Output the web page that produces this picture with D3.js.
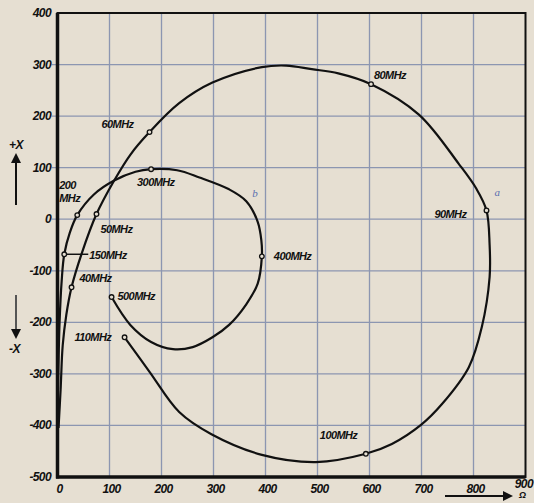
<!DOCTYPE html>
<html>
<head>
<meta charset="utf-8">
<script src="https://cdn.jsdelivr.net/npm/d3@7"></script>
<style>
  body { margin: 0; background: #e6dfd2; }
  svg { display: block; }
  .tick-label { font-family: "Liberation Sans", Arial, sans-serif; font-weight: bold; font-style: italic; font-size: 12px; fill: #111; letter-spacing: -0.6px; }
  .freq { font-family: "Liberation Sans", Arial, sans-serif; font-weight: bold; font-style: italic; font-size: 11px; fill: #111; letter-spacing: -0.6px; }
  .mark { font-family: "Liberation Serif", serif; font-style: italic; font-size: 11px; fill: #5a6fb0; }
</style>
</head>
<body>
<svg width="534" height="503"></svg>
<script>
// tick values
var xTicks = [0, 100, 200, 300, 400, 500, 600, 700, 800, 900];
var yTicks = [400, 300, 200, 100, 0, -100, -200, -300, -400, -500];

// curve a: 40 MHz .. 110 MHz  [R, X]
var curveA = [[2,-405],[6,-330],[10,-245],[17,-185],[27,-132],[46,-68],[75,10],[109,75],[140,125],
  [177,169],[234,225],[298,265],[393,295],[440,298],[489,291],[540,283],[603,262],[695,203],
  [772,107],[805,60],[825,17],[831,-50],[831,-112],[816,-209],[791,-287],[739,-359],[699,-399],
  [643,-436],[593,-455],[497,-471],[393,-457],[296,-417],[234,-374],[177,-296],[129,-229]];

// curve b: 150 MHz .. 500 MHz
var curveB = [[1,-330],[4,-200],[8,-120],[13,-68],[24,-25],[38,8],[70,48],[109,75],[150,92],
  [180,97],[230,95],[273,81],[330,58],[363,35],[385,-5],[392,-41],[393,-72],[385,-125],
  [363,-165],[330,-205],[298,-229],[260,-248],[222,-252],[180,-238],[140,-205],[104,-151]];

// frequency markers
var freqNames = ["40MHz","50MHz","60MHz","80MHz","90MHz","100MHz","110MHz",
                 "150MHz","200","300MHz","400MHz","500MHz"];
var freqPts = [[27,-132],[75,10],[177,169],[603,262],[825,17],[593,-455],[129,-229],
               [13,-68],[38,8],[180,97],[393,-72],[104,-151]];

var svg = d3.select("svg"),
    x = d3.scaleLinear().domain([0, 900]).range([57.5, 525.5]),
    y = d3.scaleLinear().domain([-500, 400]).range([477, 13]);

// label offsets (px) for the frequency texts
var labelOff = [[8,-5],[4,19],[-48,-4],[3,-5],[-52,8],[-46,-15],[-50,4],
                [25,5],[-18,-26],[-14,17],[12,4],[6,3]];

// grid
var grid = svg.append("g").attr("stroke", "#6f7ea6").attr("stroke-width", 1.3).attr("opacity", 0.75);
grid.selectAll(".gx").data(xTicks.slice(1, -1)).enter().append("line")
  .attr("x1", function (d) { return x(d); }).attr("x2", function (d) { return x(d); })
  .attr("y1", y(400)).attr("y2", y(-500));
grid.selectAll(".gy").data(yTicks.slice(1, -1)).enter().append("line")
  .attr("x1", x(0) - 6).attr("x2", x(900))
  .attr("y1", function (d) { return y(d); }).attr("y2", function (d) { return y(d); });

// frame
svg.append("rect").attr("x", x(0)).attr("y", y(400))
  .attr("width", x(900) - x(0)).attr("height", y(-500) - y(400))
  .attr("fill", "none").attr("stroke", "#111").attr("stroke-width", 2);
svg.append("line").attr("x1", x(0)).attr("x2", x(0)).attr("y1", y(400)).attr("y2", y(-500) + 1.5)
  .attr("stroke", "#111").attr("stroke-width", 3.5);
svg.append("line").attr("x1", x(0) - 1.5).attr("x2", x(900)).attr("y1", y(-500)).attr("y2", y(-500))
  .attr("stroke", "#111").attr("stroke-width", 3.5);

// tick labels
svg.selectAll(".yl").data(yTicks).enter().append("text")
  .attr("class", "tick-label").attr("text-anchor", "end")
  .attr("x", 51).attr("y", function (d) { return y(d) + 4; })
  .text(function (d) { return d; });
svg.selectAll(".xl").data(xTicks).enter().append("text")
  .attr("class", "tick-label")
  .attr("text-anchor", function (d) { return d === 900 ? "end" : "middle"; })
  .attr("x", function (d) { return d === 900 ? 533 : x(d) + 2; })
  .attr("y", function (d) { return d === 900 ? 488 : 493; })
  .text(function (d) { return d; });

// curves
var line = d3.line().x(function (d) { return x(d[0]); }).y(function (d) { return y(d[1]); })
  .curve(d3.curveCatmullRom.alpha(0.5));
[curveA, curveB].forEach(function (c) {
  svg.append("path").attr("d", line(c)).attr("fill", "none")
    .attr("stroke", "#111").attr("stroke-width", 2.2);
});

// 150 MHz leader
svg.append("line").attr("x1", x(13)).attr("x2", x(13) + 24)
  .attr("y1", y(-68)).attr("y2", y(-68)).attr("stroke", "#111").attr("stroke-width", 1.5);

// markers
svg.selectAll(".dot").data(freqPts).enter().append("circle")
  .attr("cx", function (d) { return x(d[0]); }).attr("cy", function (d) { return y(d[1]); })
  .attr("r", 2.3).attr("fill", "#e6dfd2").attr("stroke", "#111").attr("stroke-width", 1.3);

svg.selectAll(".fl").data(freqPts).enter().append("text")
  .attr("class", "freq")
  .attr("x", function (d, i) { return x(d[0]) + labelOff[i][0]; })
  .attr("y", function (d, i) { return y(d[1]) + labelOff[i][1]; })
  .text(function (d, i) { return freqNames[i]; });
svg.append("text").attr("class", "freq").attr("x", x(38) - 18).attr("y", y(8) - 13).text("MHz");

// curve names
svg.append("text").attr("class", "mark").attr("x", x(363) + 6).attr("y", y(35) - 4).text("b");
svg.append("text").attr("class", "mark").attr("x", x(825) + 8).attr("y", y(17) - 14).text("a");

// axis names with arrows
svg.append("defs").append("marker").attr("id", "ah").attr("viewBox", "0 0 10 10")
  .attr("refX", 5).attr("refY", 5).attr("markerWidth", 5).attr("markerHeight", 7).attr("orient", "auto")
  .append("path").attr("d", "M0,0L10,5L0,10Z").attr("fill", "#111");
svg.append("line").attr("x1", 16).attr("x2", 16).attr("y1", 205).attr("y2", 158)
  .attr("stroke", "#111").attr("stroke-width", 2).attr("marker-end", "url(#ah)");
svg.append("line").attr("x1", 16).attr("x2", 16).attr("y1", 295).attr("y2", 334)
  .attr("stroke", "#555").attr("stroke-width", 2).attr("marker-end", "url(#ah)");
svg.append("text").attr("class", "tick-label").attr("x", 9).attr("y", 149).text("+X");
svg.append("text").attr("class", "tick-label").attr("x", 9).attr("y", 353).text("-X");
svg.append("line").attr("x1", 445).attr("x2", 508).attr("y1", 496).attr("y2", 496)
  .attr("stroke", "#111").attr("stroke-width", 2).attr("marker-end", "url(#ah)");
svg.append("text").attr("class", "tick-label").style("font-size", "9px")
  .attr("x", 519).attr("y", 498).text("Ω");
</script>
</body>
</html>
